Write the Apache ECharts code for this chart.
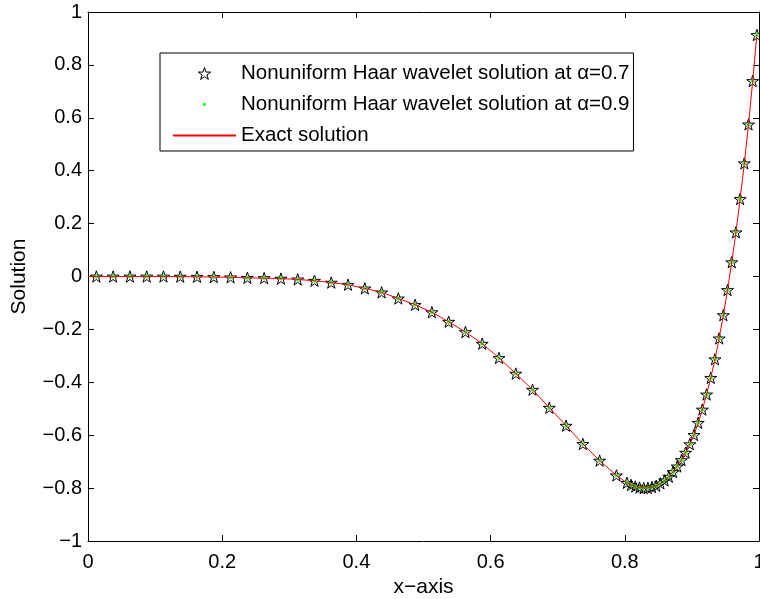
<!DOCTYPE html>
<html>
<head>
<meta charset="utf-8">
<script src="https://cdn.jsdelivr.net/npm/echarts@6/dist/echarts.min.js"></script>
<style>
html,body{margin:0;padding:0;background:#fff;}
#chart{width:760px;height:599px;}
</style>
</head>
<body>
<div id="chart"></div>
<script>
// Collocation points (nonuniform grid)
const xPoints = [
  0.0125, 0.0375, 0.0625, 0.0875, 0.1125, 0.1375, 0.1625, 0.1875,
  0.2125, 0.2375, 0.2625, 0.2875, 0.3125, 0.3375, 0.3625, 0.3875,
  0.4125, 0.4375, 0.4625, 0.4875, 0.5125, 0.5375, 0.5625, 0.5875,
  0.6125, 0.6375, 0.6625, 0.6875, 0.7125, 0.7375, 0.7625, 0.7875,
  0.803125, 0.809375, 0.815625, 0.821875, 0.828125, 0.834375, 0.840625, 0.846875,
  0.853125, 0.859375, 0.865625, 0.871875, 0.878125, 0.884375, 0.890625, 0.896875,
  0.903125, 0.909375, 0.915625, 0.921875, 0.928125, 0.934375, 0.940625, 0.946875,
  0.953125, 0.959375, 0.965625, 0.971875, 0.978125, 0.984375, 0.990625, 0.996875
];
// Haar wavelet solution, alpha = 0.7
const haarAlpha07 = [
  0, 0, 0, 0, 0, -0.0005, -0.001, -0.002,
  -0.003, -0.005, -0.006, -0.008, -0.011, -0.016, -0.023, -0.031,
  -0.045, -0.060, -0.083, -0.107, -0.135, -0.171, -0.210, -0.254,
  -0.308, -0.367, -0.428, -0.496, -0.564, -0.633, -0.696, -0.752,
  -0.780, -0.788, -0.794, -0.798, -0.800, -0.799, -0.796, -0.791,
  -0.782, -0.771, -0.757, -0.739, -0.718, -0.694, -0.666, -0.634,
  -0.599, -0.553, -0.503, -0.446, -0.383, -0.313, -0.234, -0.146,
  -0.051, 0.054, 0.167, 0.293, 0.428, 0.575, 0.739, 0.913
];
// Haar wavelet solution, alpha = 0.9 (coincides with alpha = 0.7 in the picture)
const haarAlpha09 = [
  0, 0, 0, 0, 0, -0.0005, -0.001, -0.002,
  -0.003, -0.005, -0.006, -0.008, -0.011, -0.016, -0.023, -0.031,
  -0.045, -0.060, -0.083, -0.107, -0.135, -0.171, -0.210, -0.254,
  -0.308, -0.367, -0.428, -0.496, -0.564, -0.633, -0.696, -0.752,
  -0.780, -0.788, -0.794, -0.798, -0.800, -0.799, -0.796, -0.791,
  -0.782, -0.771, -0.757, -0.739, -0.718, -0.694, -0.666, -0.634,
  -0.599, -0.553, -0.503, -0.446, -0.383, -0.313, -0.234, -0.146,
  -0.051, 0.054, 0.167, 0.293, 0.428, 0.575, 0.739, 0.913
];
// Exact solution
const exactX = [0].concat(xPoints);
const exactY = [0].concat(haarAlpha07);

const xTickLabels = ['0', '0.2', '0.4', '0.6', '0.8', '1'];
const yTickLabels = ['\u22121', '\u22120.8', '\u22120.6', '\u22120.4', '\u22120.2', '0', '0.2', '0.4', '0.6', '0.8', '1'];

const seriesNames = [
  'Nonuniform Haar wavelet solution at \u03b1=0.7',
  'Nonuniform Haar wavelet solution at \u03b1=0.9',
  'Exact solution'
];

const STAR = 'path://M50,0 L61.2,34.5 L97.6,34.5 L68.2,55.9 L79.4,90.5 L50,69.1 L20.6,90.5 L31.8,55.9 L2.4,34.5 L38.8,34.5 Z';
const DOT = 'path://M0,0 M12,12 M6,4.3 A1.7,1.7 0 1 1 6,7.7 A1.7,1.7 0 1 1 6,4.3 Z';

function zip(xs, ys) { return xs.map((x, i) => [x, ys[i]]); }

const FONT = '"Liberation Sans", Arial, Helvetica, sans-serif';

const chart = echarts.init(document.getElementById('chart'), null, { renderer: 'canvas' });

const axisCommon = {
  axisLine: { show: true, onZero: false, lineStyle: { color: '#000', width: 1 } },
  axisTick: { show: true, inside: true, length: 6, lineStyle: { color: '#000', width: 1 } },
  splitLine: { show: false }
};

chart.setOption({
  animation: false,
  backgroundColor: '#fff',
  textStyle: { fontFamily: FONT },
  grid: { left: 88, right: 1, top: 12, bottom: 58, containLabel: false, outerBoundsMode: 'none' },
  xAxis: [
    Object.assign({
      type: 'value', min: 0, max: 1, interval: 0.2, position: 'bottom',
      name: 'x\u2212axis', nameLocation: 'middle', nameGap: 36,
      nameTextStyle: { fontSize: 21, color: '#000', fontFamily: FONT },
      axisLabel: {
        fontSize: 20, color: '#000', margin: 11, fontFamily: FONT,
        formatter: v => xTickLabels[Math.round(v / 0.2)]
      }
    }, axisCommon),
    Object.assign({
      type: 'value', min: 0, max: 1, interval: 0.2, position: 'top',
      axisLabel: { show: false }
    }, axisCommon)
  ],
  yAxis: [
    Object.assign({
      type: 'value', min: -1, max: 1, interval: 0.2, position: 'left',
      name: 'Solution', nameLocation: 'middle', nameGap: 58, nameRotate: 90,
      nameTextStyle: { fontSize: 21, color: '#000', fontFamily: FONT },
      axisLabel: {
        fontSize: 20, color: '#000', margin: 6, fontFamily: FONT,
        formatter: v => yTickLabels[Math.round((v + 1) / 0.2)]
      }
    }, axisCommon),
    Object.assign({
      type: 'value', min: -1, max: 1, interval: 0.2, position: 'right',
      axisLabel: { show: false }
    }, axisCommon)
  ],
  legend: {
    orient: 'vertical',
    left: 160, top: 53,
    padding: [10, 4, 5, 12],
    itemWidth: 63, itemHeight: 12, itemGap: 10,
    borderColor: '#000', borderWidth: 1, borderRadius: 0,
    backgroundColor: '#fff',
    textStyle: { fontSize: 20.5, color: '#000', fontFamily: FONT, lineHeight: 20 },
    selectedMode: false,
    data: [
      { name: seriesNames[0], icon: STAR,
        itemStyle: { color: 'rgba(255,255,255,0)', borderColor: '#000', borderWidth: 1 } },
      { name: seriesNames[1], icon: DOT, itemStyle: { color: '#00ff00', borderWidth: 0 } },
      { name: seriesNames[2], itemStyle: { opacity: 0 } }
    ]
  },
  series: [
    {
      name: seriesNames[0], type: 'scatter', z: 2,
      symbol: STAR, symbolSize: 12, symbolKeepAspect: true,
      itemStyle: { color: 'rgba(255,255,255,0)', borderColor: '#000', borderWidth: 1, opacity: 1 },
      data: zip(xPoints, haarAlpha07)
    },
    {
      name: seriesNames[1], type: 'scatter', z: 3,
      symbol: 'circle', symbolSize: 4,
      itemStyle: { color: '#00ff00', borderWidth: 0 },
      data: zip(xPoints, haarAlpha09)
    },
    {
      name: seriesNames[2], type: 'line', z: 4,
      symbol: 'none', showSymbol: false,
      lineStyle: { color: '#ff0000', width: 1 },
      itemStyle: { color: '#ff0000' },
      data: zip(exactX, exactY)
    }
  ]
});
</script>
</body>
</html>
